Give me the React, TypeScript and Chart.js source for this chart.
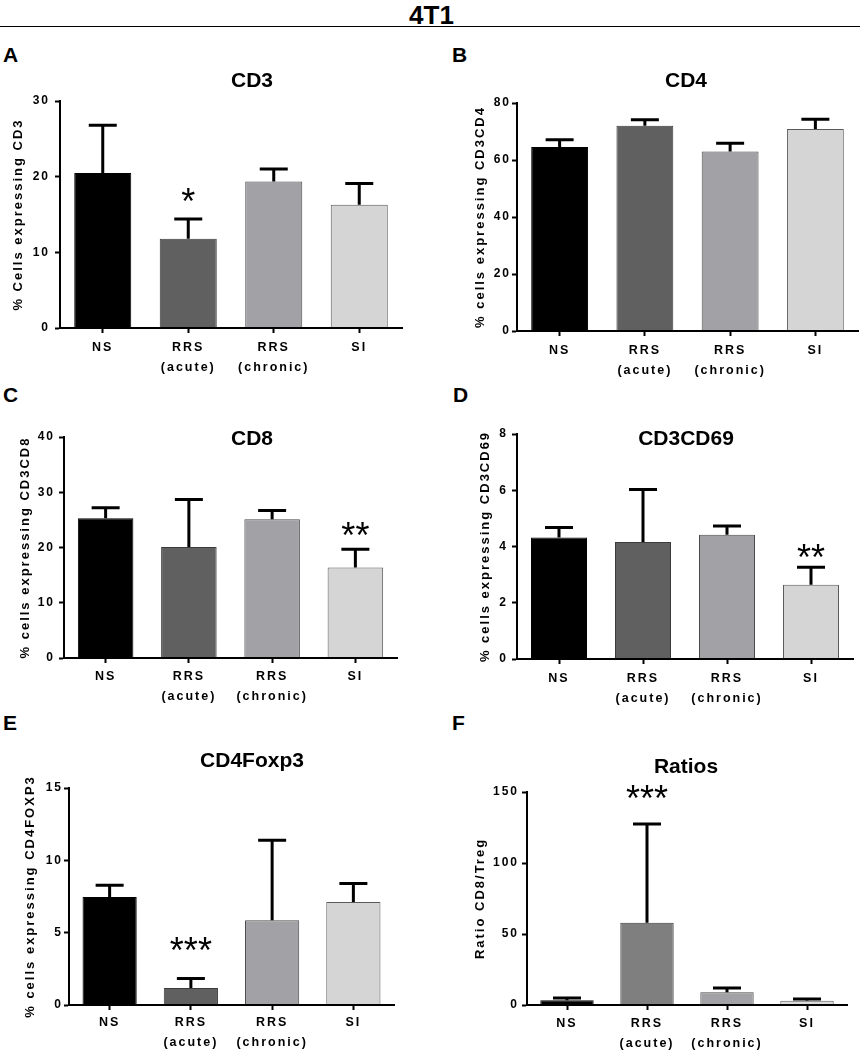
import React, { useEffect, useRef } from "react";
import { Chart, registerables } from "chart.js";

Chart.register(...registerables);

// ---------- data ----------
const groups = [["NS"], ["RRS", "(acute)"], ["RRS", "(chronic)"], ["SI"]];

const cd3Mean = [20.5, 11.8, 19.35, 16.3];
const cd3Sem = [6.3, 2.6, 1.65, 2.8];
const cd3Stars = ["", "*", "", ""];
const cd3StarAt = 17.9;

const cd4Mean = [64.6, 72.0, 63.0, 70.9];
const cd4Sem = [2.5, 2.1, 2.9, 3.4];
const cd4Stars = ["", "", "", ""];
const cd4StarAt = 0;

const cd8Mean = [25.3, 20.1, 25.1, 16.4];
const cd8Sem = [1.9, 8.6, 1.6, 3.3];
const cd8Stars = ["", "", "", "**"];
const cd8StarAt = 23.8;

const cd69Mean = [4.32, 4.16, 4.42, 2.64];
const cd69Sem = [0.36, 1.87, 0.31, 0.62];
const cd69Stars = ["", "", "", "**"];
const cd69StarAt = 3.91;

const foxMean = [7.46, 1.18, 5.85, 7.12];
const foxSem = [0.81, 0.65, 5.54, 1.27];
const foxStars = ["", "***", "", ""];
const foxStarAt = 4.37;

const ratioMean = [3.3, 57.9, 8.9, 3.0];
const ratioSem = [1.6, 69.6, 3.1, 1.2];
const ratioStars = ["", "***", "", ""];
const ratioStarAt = 151.7;

const greyFills = ["#000000", "#606060", "#a2a2a6", "#d5d5d5"];
const ratioFills = ["#000000", "#7f7f7f", "#a2a2a6", "#dadada"];

// ---------- layout ----------
const FONT = "'Liberation Sans', Arial, Helvetica, sans-serif";

type P = {
  title: string; yTitle: string; mean: number[]; sem: number[]; stars: string[]; starAt: number;
  fills: string[]; max: number; step: number;
  cL: number; cTop: number; cW: number; cH: number;
  left: number; right: number; top: number; bottom: number;
  yTitleX: number; titleX: number; titleY: number; yPad: number; xPad: number;
};

const panels: P[] = [
  { title: "CD3", yTitle: "% Cells expressing CD3", mean: cd3Mean, sem: cd3Sem, stars: cd3Stars, starAt: cd3StarAt,
    fills: greyFills, max: 30, step: 10, cL: 0, cTop: 35, cW: 430, cH: 348,
    left: 60, right: 402, top: 101, bottom: 328, yTitleX: 18, titleX: 252, titleY: 79, yPad: 5, xPad: 5 },
  { title: "CD4", yTitle: "% cells expressing CD3CD4", mean: cd4Mean, sem: cd4Sem, stars: cd4Stars, starAt: cd4StarAt,
    fills: greyFills, max: 80, step: 20, cL: 432, cTop: 35, cW: 431, cH: 348,
    left: 517, right: 858, top: 103, bottom: 331, yTitleX: 480, titleX: 686, titleY: 79, yPad: 1, xPad: 5 },
  { title: "CD8", yTitle: "% cells expressing CD3CD8", mean: cd8Mean, sem: cd8Sem, stars: cd8Stars, starAt: cd8StarAt,
    fills: greyFills, max: 40, step: 10, cL: 0, cTop: 400, cW: 430, cH: 310,
    left: 64, right: 397, top: 437, bottom: 658, yTitleX: 25, titleX: 252, titleY: 437, yPad: 4, xPad: 4 },
  { title: "CD3CD69", yTitle: "% cells expressing CD3CD69", mean: cd69Mean, sem: cd69Sem, stars: cd69Stars, starAt: cd69StarAt,
    fills: greyFills, max: 8, step: 2, cL: 432, cTop: 400, cW: 431, cH: 310,
    left: 517, right: 853, top: 434, bottom: 659, yTitleX: 485, titleX: 686, titleY: 437, yPad: 4, xPad: 5 },
  { title: "CD4Foxp3", yTitle: "% cells expressing CD4FOXP3", mean: foxMean, sem: foxSem, stars: foxStars, starAt: foxStarAt,
    fills: greyFills, max: 15, step: 5, cL: 0, cTop: 735, cW: 430, cH: 315,
    left: 69, right: 394, top: 788, bottom: 1005, yTitleX: 30, titleX: 252, titleY: 759, yPad: 1, xPad: 3 },
  { title: "Ratios", yTitle: "Ratio CD8/Treg", mean: ratioMean, sem: ratioSem, stars: ratioStars, starAt: ratioStarAt,
    fills: ratioFills, max: 150, step: 50, cL: 432, cTop: 735, cW: 431, cH: 315,
    left: 527, right: 847, top: 792, bottom: 1005, yTitleX: 480, titleX: 686, titleY: 765, yPad: 3, xPad: 4 },
];

const letters = [
  { t: "A", x: 3, y: 44 }, { t: "B", x: 452, y: 44 },
  { t: "C", x: 3, y: 384 }, { t: "D", x: 453, y: 384 },
  { t: "E", x: 3, y: 712 }, { t: "F", x: 452, y: 712 },
];

function decor(p: P) {
  return {
    id: "decor",
    beforeDraw(chart: any) {
      chart.ctx.letterSpacing = "2px";
    },
    afterDatasetsDraw(chart: any) {
      const ctx = chart.ctx;
      const meta = chart.getDatasetMeta(0);
      const ys = chart.scales.y;
      ctx.save();
      ctx.strokeStyle = "#000";
      ctx.lineWidth = 3;
      meta.data.forEach((bar: any, i: number) => {
        const yt = ys.getPixelForValue(p.mean[i] + p.sem[i]);
        ctx.beginPath();
        ctx.moveTo(bar.x, bar.y);
        ctx.lineTo(bar.x, yt);
        ctx.moveTo(bar.x - 14, yt);
        ctx.lineTo(bar.x + 14, yt);
        ctx.stroke();
      });
      ctx.restore();
    },
    afterDraw(chart: any) {
      const ctx = chart.ctx;
      const meta = chart.getDatasetMeta(0);
      const ys = chart.scales.y;
      ctx.save();
      ctx.letterSpacing = "0px";
      ctx.fillStyle = "#000";
      ctx.textAlign = "center";
      ctx.textBaseline = "alphabetic";
      ctx.font = `bold 21px ${FONT}`;
      ctx.fillText(p.title, p.titleX - p.cL, p.titleY - p.cTop + 7.5);
      ctx.font = `36px ${FONT}`;
      meta.data.forEach((bar: any, i: number) => {
        if (!p.stars[i]) return;
        const yc = ys.getPixelForValue(p.starAt);
        ctx.fillText(p.stars[i], bar.x, yc + 21);
      });
      ctx.restore();
    },
  };
}

function makeConfig(p: P): any {
  return {
    type: "bar",
    data: {
      labels: groups,
      datasets: [{
        data: p.mean,
        backgroundColor: p.fills,
        borderColor: ["#000000", "#3a3a3a", "#4a4a4a", "#5a5a5a"],
        borderWidth: 1,
        barPercentage: 0.667,
        categoryPercentage: 1,
      }],
    },
    options: {
      animation: false,
      responsive: false,
      maintainAspectRatio: false,
      layout: { padding: { left: 0, top: p.top - p.cTop, right: p.cW - (p.right - p.cL), bottom: 0 } },
      plugins: { legend: { display: false }, tooltip: { enabled: false }, title: { display: false } },
      scales: {
        x: {
          grid: { display: true, drawOnChartArea: false, drawTicks: true, tickLength: 5, tickWidth: 2, tickColor: "#000", offset: false, z: 1 },
          border: { display: true, color: "#000", width: 2, z: 1 },
          ticks: { color: "#000", font: { family: FONT, size: 12.5, weight: "bold", lineHeight: 20 / 12.5 }, padding: p.xPad, maxRotation: 0, autoSkip: false },
          afterFit: (s: any) => { s.height = p.cTop + p.cH - p.bottom; },
        },
        y: {
          min: 0, max: p.max,
          grid: { display: true, drawOnChartArea: false, drawTicks: true, tickLength: 5, tickWidth: 2, tickColor: "#000", z: 1 },
          border: { display: true, color: "#000", width: 2, z: 1 },
          ticks: { stepSize: p.step, color: "#000", font: { family: FONT, size: 12, weight: "bold" }, padding: p.yPad },
          title: {
            display: true, text: p.yTitle, color: "#000",
            font: { family: FONT, size: 13, weight: "bold", lineHeight: 1.2 },
            padding: { top: p.yTitleX - p.cL - 7.8, bottom: 0 },
          },
          afterFit: (s: any) => { s.width = p.left - p.cL; },
        },
      },
    },
    plugins: [decor(p)],
  };
}

function Panel({ p }: { p: P }) {
  const ref = useRef<HTMLCanvasElement>(null);
  useEffect(() => {
    const chart = new Chart(ref.current as HTMLCanvasElement, makeConfig(p));
    return () => chart.destroy();
  }, []);
  return (
    <canvas
      ref={ref}
      width={p.cW}
      height={p.cH}
      style={{ position: "absolute", left: p.cL, top: p.cTop, width: p.cW, height: p.cH, display: "block" }}
    />
  );
}

export default function App() {
  return (
    <div style={{ position: "absolute", left: 0, top: 0, width: 863, height: 1050, overflow: "hidden", background: "#fff" }}>
      <div style={{
        position: "absolute", left: 0, top: 2, width: 863, textAlign: "center",
        fontFamily: "'Liberation Sans Narrow', 'Arial Narrow', " + FONT, fontWeight: "bold", fontSize: 26, lineHeight: "26px", color: "#000",
      }}>4T1</div>
      <div style={{ position: "absolute", left: 0, top: 26, width: 860, height: 1, background: "#000" }} />
      {letters.map((l) => (
        <div key={l.t} style={{
          position: "absolute", left: l.x, top: l.y, fontFamily: FONT, fontWeight: "bold",
          fontSize: 21, lineHeight: "21px", color: "#000",
        }}>{l.t}</div>
      ))}
      {panels.map((p) => <Panel key={p.title} p={p} />)}
    </div>
  );
}
